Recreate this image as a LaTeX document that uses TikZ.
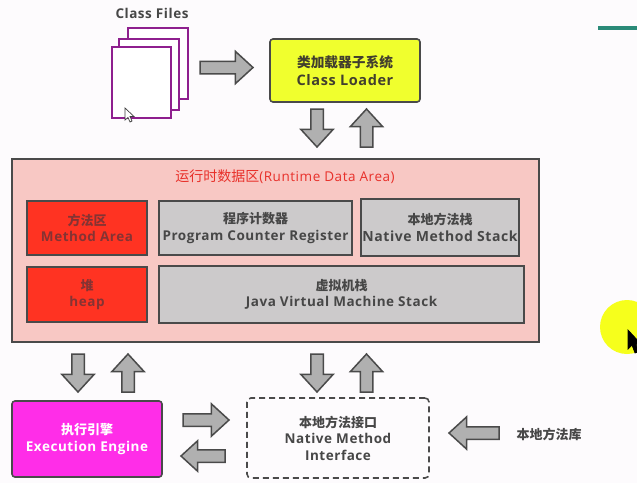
\documentclass[tikz,border=0pt]{standalone}
\usepackage{fontspec}
\setmainfont{Open Sans}[LetterSpace=4]
\newfontfamily\cjk{Noto Sans CJK SC}
\usetikzlibrary{shapes.arrows}
\definecolor{bgc}{HTML}{FDFBFD}
\definecolor{edgec}{HTML}{4A4A4A}
\definecolor{purp}{HTML}{8E1F8E}
\definecolor{yel}{HTML}{F0FF2E}
\definecolor{pinkc}{HTML}{F8C8C4}
\definecolor{redc}{HTML}{FF3322}
\definecolor{greyc}{HTML}{CCCACB}
\definecolor{magc}{HTML}{FF2DE8}
\definecolor{arrc}{HTML}{B0B0B0}
\definecolor{tealc}{HTML}{2A8A78}
\definecolor{titlec}{HTML}{E8302A}
\newcommand{\zh}[1]{{\cjk\fontsize{13}{16.5}\selectfont #1}}
\tikzset{
  txt/.style={font=\fontsize{13.5}{16.5}\selectfont\bfseries, align=center, text=#1},
  txt/.default={black!72},
  page/.style={draw=purp, line width=1.6pt, fill=white, inner sep=0pt, minimum height=71pt},
  box/.style={draw=edgec, line width=1.6pt, inner sep=0pt, txt=#1},
  box/.default={black!72},
  blockarrow/.style={single arrow, draw=edgec, fill=arrc, line width=1.5pt,
    inner xsep=0pt, inner ysep=5.5pt, outer sep=0pt, anchor=tail,
    minimum width=31pt, single arrow head extend=10pt, single arrow tip angle=85,
    single arrow head indent=0pt},
  cursor/.style={line width=.7pt, line join=miter}
}
\begin{document}
\begin{tikzpicture}[x=1pt,y=-1pt]
\useasboundingbox (0,0) rectangle (637,483);
\clip (0,0) rectangle (637,483);
\fill[bgc] (0,0) rectangle (637,483);
% overlays of the capture
\node[fill=tealc, inner sep=0pt, minimum width=39pt, minimum height=4pt, anchor=west] (rule) at (598,28) {};
\node[circle, fill=yel!60!yellow, inner sep=0pt, minimum size=54pt] (spot) at (627,327) {};
% class files
\node[txt] (cftitle) at (152,13) {Class Files};
\node[page, minimum width=60pt] (p3) at (158,63.5) {};
\node[page, minimum width=60pt] (p2) at (149,74.5) {};
\node[page, minimum width=59pt] (p1) at (141.5,82.5) {};
% boxes
\node[box={black!70!olive}, font=\fontsize{14.5}{17.5}\selectfont\bfseries, fill=yel, rounded corners=3pt, minimum width=150pt, minimum height=63pt] (loader) at (345,70.5)
  {{\cjk\fontsize{13.7}{17.5}\selectfont 类加载器子系统}\\Class Loader};
\node[draw=edgec, line width=1.6pt, fill=pinkc, inner sep=0pt, minimum width=527pt, minimum height=183pt] (runtime) at (275.5,250.5) {};
\node[font=\fontsize{13.5}{16}\selectfont, text=titlec] (rtitle) at (285,177) {{\cjk\fontsize{14}{16}\selectfont 运行时数据区}(Runtime Data Area)};
\node[box={red!40!black!80}, fill=redc, minimum width=120pt, minimum height=54pt] (method) at (87,228)
  {\zh{方法区}\\Method Area};
\node[box={red!40!black!80}, fill=redc, minimum width=120pt, minimum height=55pt] (heap) at (87,294.5)
  {\zh{堆}\\heap};
\node[box, fill=greyc, minimum width=193pt, minimum height=54pt] (pc) at (255.5,228)
  {\zh{程序计数器}\\Program Counter Register};
\node[box, font=\fontsize{14}{16.5}\selectfont\bfseries, fill=greyc, minimum width=158pt, minimum height=57pt] (nstack) at (440,227.5)
  {\zh{本地方法栈}\\Native Method Stack};
\node[box, fill=greyc, minimum width=365pt, minimum height=57pt] (jstack) at (341.5,294.5)
  {\zh{虚拟机栈}\\Java Virtual Machine Stack};
\node[box=white, fill=magc, rounded corners=3pt, minimum width=150pt, minimum height=76pt] (exec) at (87,439)
  {\zh{执行引擎}\\Execution Engine};
\node[box, dashed, dash pattern=on 6pt off 4pt, rounded corners=4pt, minimum width=182pt, minimum height=80pt] (nif) at (338,438)
  {\zh{本地方法接口}\\Native Method\\Interface};
\node[txt] (nlib) at (549,434) {\zh{本地方法库}};
% block arrows (placed by the middle of the tail)
\node[blockarrow, minimum height=53pt] (a1) at (200,67.5) {};
\node[blockarrow, minimum height=38pt, rotate=-90] (a2) at (317,109) {};
\node[blockarrow, minimum height=38pt, rotate=90] (a3) at (366.5,147) {};
\node[blockarrow, minimum height=38pt, rotate=-90] (a4) at (78,354) {};
\node[blockarrow, minimum height=38pt, rotate=90] (a5) at (128,392) {};
\node[blockarrow, minimum height=38pt, rotate=-90] (a6) at (317,354) {};
\node[blockarrow, minimum height=38pt, rotate=90] (a7) at (366.5,392) {};
\node[blockarrow, minimum height=46pt] (a8) at (183,420) {};
\node[blockarrow, minimum height=44pt, minimum width=29pt, single arrow head extend=9pt, rotate=180] (a9) at (225,456) {};
\node[blockarrow, minimum height=50pt, rotate=180] (a10) at (499,433) {};
% pointers
\draw[cursor, draw=black!75, fill=white] (125,108) -- (125,120) -- (128,117.5) -- (130,122) -- (132,121) -- (130,116.5) -- (134,116.5) -- cycle;
\draw[cursor, draw=black, fill=black] (628,330) -- (628,349) -- (632,345) -- (635,353) -- (638,352) -- (636,344) -- (641,344) -- cycle;
\end{tikzpicture}
\end{document}
